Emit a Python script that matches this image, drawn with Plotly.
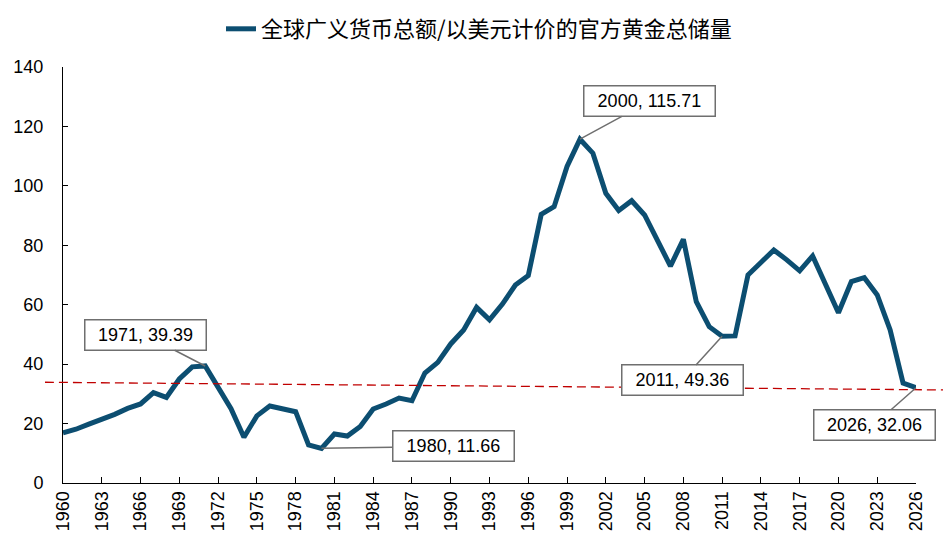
import plotly.graph_objects as go

years = list(range(1960, 2027))
values = [16.9, 18.1, 19.8, 21.4, 23.1, 25.1, 26.6, 30.4, 28.8, 35.0,
          39.1, 39.39, 32.4, 25.0, 15.4, 22.6, 25.9, 24.8, 24.0, 12.8,
          11.66, 16.5, 15.8, 19.0, 24.9, 26.6, 28.6, 27.7, 37.0, 40.6,
          46.8, 51.5, 59.1, 54.9, 60.2, 66.6, 69.8, 90.4, 93.0, 106.5,
          115.71, 111.0, 97.5, 91.7, 95.0, 90.2, 81.2, 73.0, 82.0, 61.0,
          52.6, 49.36, 49.5, 70.0, 74.2, 78.4, 75.1, 71.4, 76.4, 66.6,
          57.3, 67.8, 69.1, 63.3, 51.5, 33.6, 32.06]
tick_years = list(range(1960, 2027, 3))
series_name = "全球广义货币总额/以美元计价的官方黄金总储量"

# trend line (extends beyond the axis on both sides)
trend_years = [1958.6, 2028.7]
trend_values = [33.9, 31.3]

# highlighted points and label offsets (pixels)
callout_years = [1971, 1980, 2000, 2011, 2026]
callout_dx = [-60, 132, 70, -40, -42]
callout_dy = [-31, -2, -38, 44, 37]

# page body has an 8px margin, so the figure is sized to fit the window
W, H = 943, 535
ML, MR, MT, MB = 37, 0, 59, 60
plot_w = W - ML - MR
plot_h = H - MT - MB
x_dom = [(55 - ML) / plot_w, (908 - ML) / plot_w]
px_per_year = (x_dom[1] - x_dom[0]) * plot_w / (years[-1] - years[0])
x2_range = [years[0] - x_dom[0] * plot_w / px_per_year,
            years[-1] + (1 - x_dom[1]) * plot_w / px_per_year]

fig = go.Figure()
fig.add_trace(go.Scatter(
    x=trend_years, y=trend_values, xaxis="x2", yaxis="y", mode="lines",
    line=dict(color="#C00000", width=1.3, dash="9px,5px"),
    showlegend=False, hoverinfo="skip"))
fig.add_trace(go.Scatter(
    x=years, y=values, mode="lines", name=series_name,
    line=dict(color="#0C4E71", width=5)))

for yr, dx, dy in zip(callout_years, callout_dx, callout_dy):
    v = values[years.index(yr)]
    label = f"{yr}, {v:.2f}"
    fig.add_annotation(
        x=yr, y=v, xref="x", yref="y", ax=dx, ay=dy,
        text=label, showarrow=True, arrowhead=0,
        arrowwidth=1.5, arrowcolor="#6f6f6f", standoff=0,
        bgcolor="white", bordercolor="#6f6f6f", borderwidth=1.5,
        borderpad=3, width=114 + 10 * (len(label) - 11), height=23,
        font=dict(family="Liberation Sans, Arial", size=18, color="black"))

fig.update_layout(
    width=W, height=H,
    margin=dict(l=ML, r=MR, t=MT, b=MB, autoexpand=False),
    paper_bgcolor="white", plot_bgcolor="rgba(0,0,0,0)",
    font=dict(family="Liberation Sans, Arial", size=18, color="black"),
    showlegend=True,
    legend=dict(xref="container", yref="container",
                x=(479 - 8) / W, xanchor="center", y=1,
                yanchor="top", orientation="h",
                font=dict(family="Noto Sans CJK SC", size=22, color="black"),
                bgcolor="rgba(0,0,0,0)"),
    xaxis=dict(domain=x_dom, range=[years[0], years[-1]], anchor="y",
               tickmode="array", tickvals=tick_years,
               ticktext=[str(t) for t in tick_years], tickangle=-90,
               showline=True, linecolor="black", linewidth=1,
               ticks="inside", ticklen=6, tickcolor="black",
               showgrid=False, zeroline=False, automargin=False,
               tickfont=dict(size=18)),
    xaxis2=dict(domain=[0, 1], range=x2_range, anchor="y", visible=False,
                showgrid=False, zeroline=False, automargin=False),
    yaxis=dict(range=[0, 140], dtick=20, anchor="x",
               showline=True, linecolor="black", linewidth=1,
               ticks="inside", ticklen=5, tickcolor="black",
               showgrid=False, zeroline=False, ticklabelstandoff=15,
               automargin=False, tickfont=dict(size=18)),
)

fig.write_html("out.html")
